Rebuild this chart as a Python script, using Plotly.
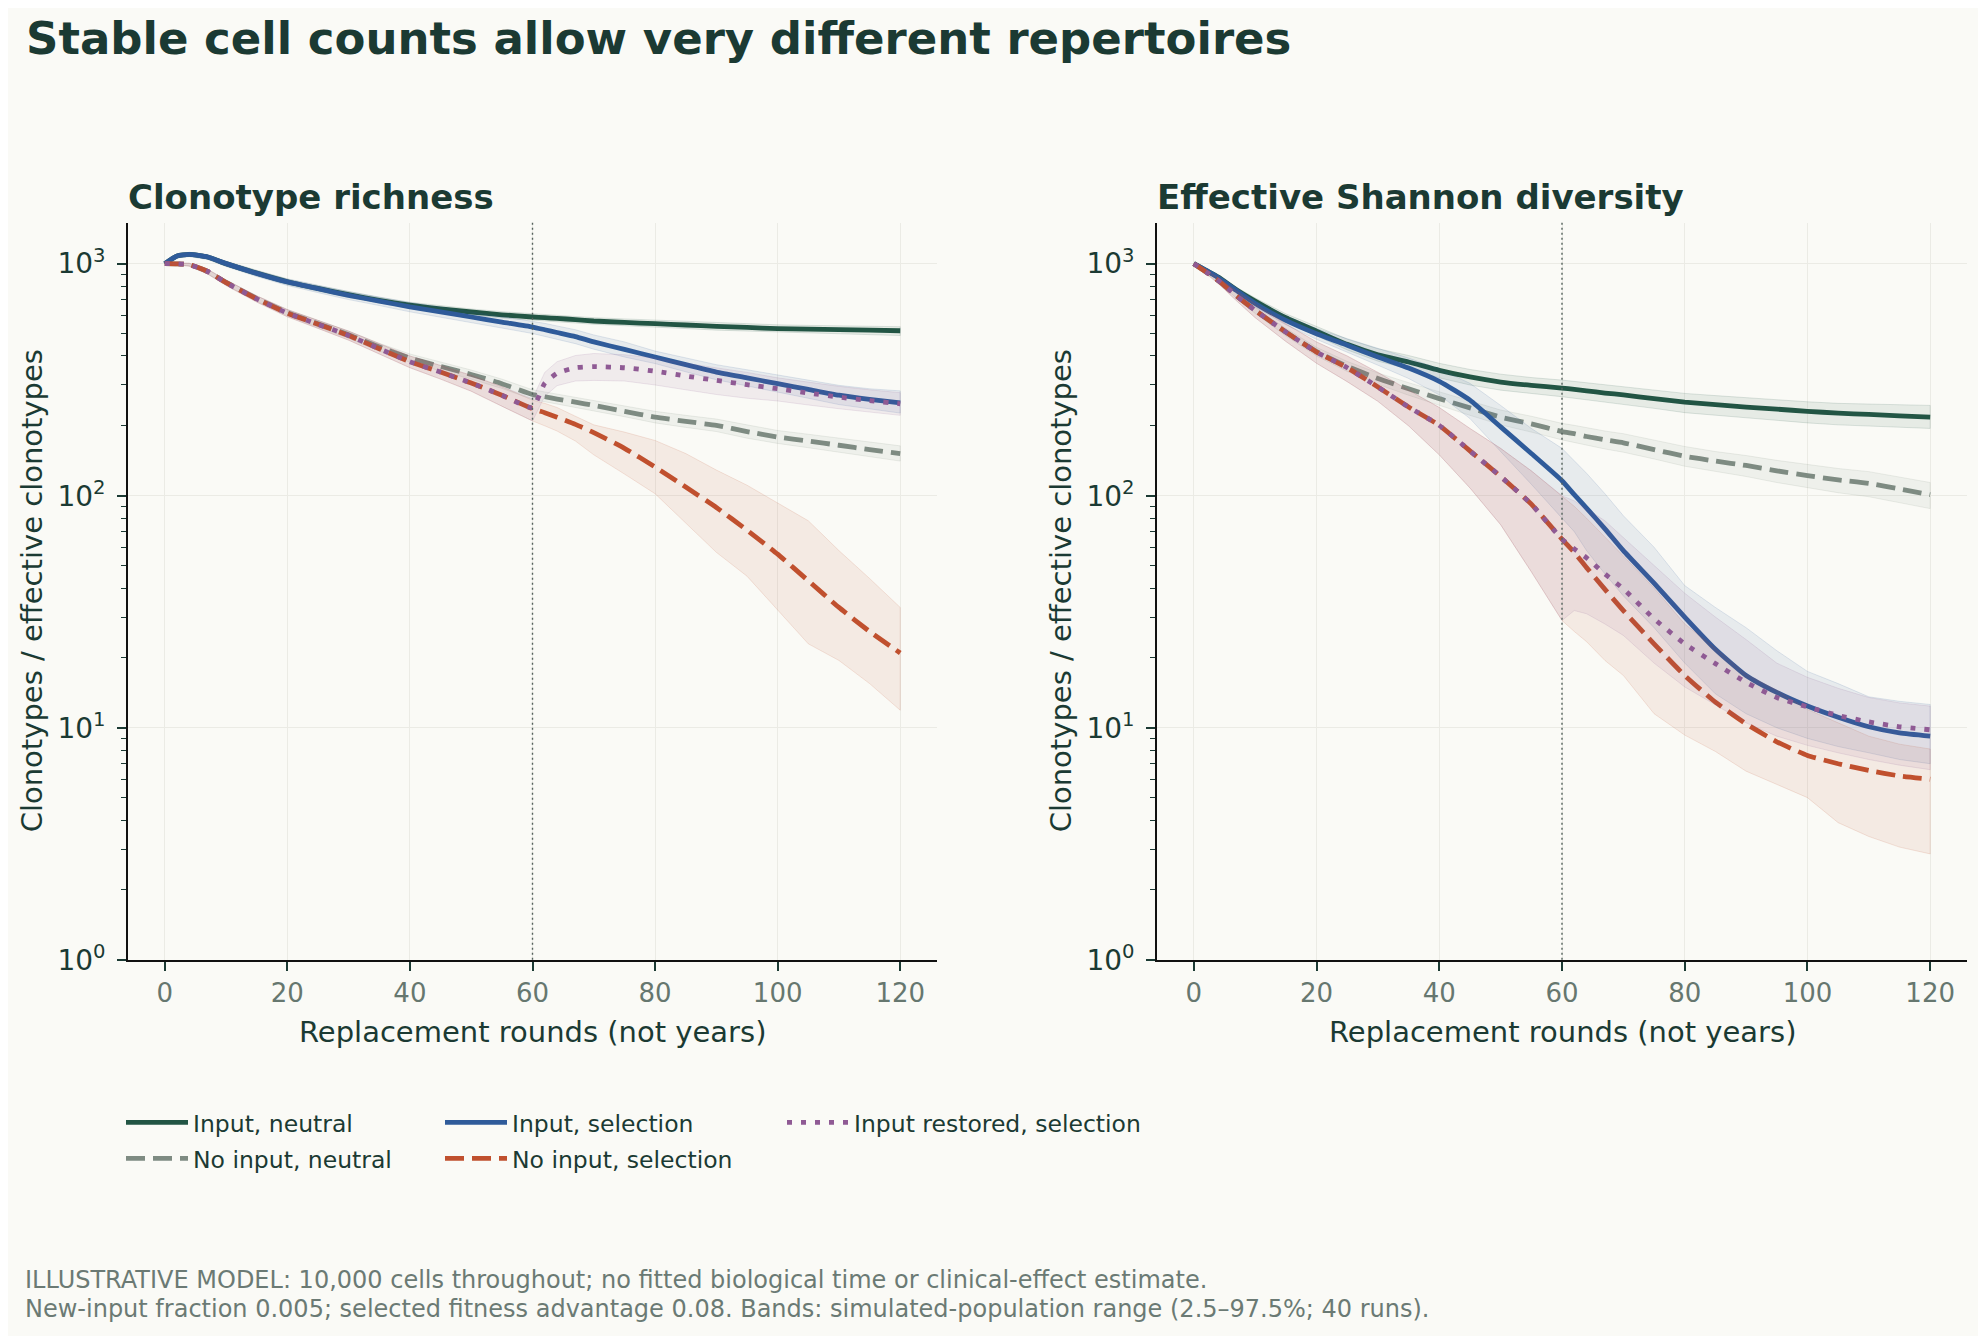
import plotly.graph_objects as go
from plotly.subplots import make_subplots

# page is 1986x1344; the html body adds an 8px margin, so the figure is made
# 16px smaller. The captured page comes out slightly squeezed vertically,
# so y positions are stretched by SY to land on the wanted pixels.
PAGE_W, PAGE_H = 1986, 1344
FW, FH = PAGE_W - 16, PAGE_H - 16
SY = 0.9885


def px(x):
    return (x - 8) / FW


def py(y):
    return 1 - (y / SY - 8) / FH


rounds = [0, 2, 4, 7, 10, 15, 20, 25, 30, 35, 40, 45, 50, 55, 60, 62, 64, 67,
          70, 75, 80, 85, 90, 95, 100, 105, 110, 115, 120]

# ---- left panel: clonotype richness ----
rich_in_neutral = [1000, 1079, 1097, 1068, 1000, 910, 836, 782, 735, 695, 662, 638, 619, 602, 589, 585, 581, 574,
                   566, 558, 551, 544, 537, 531, 525, 522, 520, 517, 514]
rich_in_neutral_lo = [1000, 1060, 1075, 1045, 975, 886, 812, 760, 714, 675, 642, 618, 600, 583, 570, 566, 562, 555,
                      548, 539, 532, 525, 517, 511, 505, 501, 498, 494, 490]
rich_in_neutral_hi = [1000, 1095, 1118, 1090, 1022, 934, 858, 804, 757, 716, 682, 658, 638, 621, 608, 604, 600, 593,
                      585, 578, 571, 564, 557, 551, 545, 542, 540, 537, 535]

rich_no_neutral = [1000, 998, 990, 925, 830, 707, 615, 551, 494, 437, 392, 361, 333, 304, 273, 267, 261, 253,
                   245, 231, 218, 209, 201, 189, 179, 172, 165, 158, 152]
rich_no_neutral_lo = [1000, 990, 978, 905, 810, 688, 596, 532, 476, 420, 376, 345, 318, 290, 260, 254, 248, 240,
                      232, 219, 206, 197, 189, 177, 168, 161, 154, 147, 141]
rich_no_neutral_hi = [1000, 1006, 1002, 944, 850, 726, 634, 570, 512, 454, 408, 377, 348, 318, 286, 280, 274, 266,
                      258, 244, 231, 222, 214, 202, 191, 184, 177, 170, 164]

rich_in_sel = [1000, 1079, 1097, 1068, 1000, 908, 834, 780, 730, 690, 651, 620, 589, 560, 533, 519, 505, 485,
               460, 427, 396, 367, 341, 322, 304, 287, 271, 260, 251]
rich_in_sel_lo = [1000, 1058, 1072, 1042, 972, 880, 805, 750, 700, 660, 620, 588, 557, 528, 500, 486, 472, 452,
                  428, 396, 371, 342, 316, 297, 279, 263, 247, 236, 227]
rich_in_sel_hi = [1000, 1098, 1120, 1094, 1026, 934, 860, 808, 758, 718, 680, 650, 620, 592, 566, 553, 539, 519,
                  493, 460, 420, 392, 367, 349, 332, 315, 299, 289, 283]

rich_no_sel = [1000, 998, 990, 925, 828, 705, 612, 548, 490, 430, 378, 341, 306, 271, 237, 228, 218, 203,
               187, 160, 133, 109, 89, 71, 56, 43, 33, 26, 21]
rich_no_sel_lo = [1000, 988, 975, 902, 805, 683, 590, 526, 468, 408, 356, 318, 282, 243, 210, 200, 190, 172,
                  150, 124, 102, 76, 57, 45, 32, 23, 19.5, 15.5, 11.9]
rich_no_sel_hi = [1000, 1006, 1004, 946, 850, 727, 634, 570, 512, 452, 400, 364, 330, 295, 258, 250, 240, 220,
                  202, 188, 173, 152, 129, 111, 93, 78, 58, 44, 33]

rich_restored_sel = [1000, 998, 990, 925, 828, 705, 612, 548, 490, 430, 378, 341, 306, 271, 240, 305, 337, 356,
                     360, 356, 344, 328, 314, 301, 289, 277, 266, 257, 249]
rich_restored_sel_lo = [1000, 988, 975, 902, 805, 683, 590, 526, 468, 408, 356, 318, 282, 243, 210, 268, 298, 312,
                        314, 312, 300, 286, 273, 263, 256, 246, 237, 229, 222]
rich_restored_sel_hi = [1000, 1006, 1004, 946, 850, 727, 634, 570, 512, 452, 400, 364, 330, 295, 262, 340, 378, 402,
                        410, 405, 392, 372, 355, 340, 322, 308, 296, 286, 278]

# ---- right panel: effective Shannon diversity ----
div_in_neutral = [1000, 935, 875, 770, 690, 585, 512, 449, 405, 377, 347, 325, 309, 299, 291, 287, 283, 277,
                  272, 262, 253, 247, 241, 236, 231, 227, 224, 221, 218]
div_in_neutral_lo = [1000, 925, 860, 752, 668, 562, 488, 425, 380, 352, 322, 300, 285, 275, 267, 263, 259, 253,
                     248, 238, 228, 222, 216, 211, 206, 202, 199, 197, 195]
div_in_neutral_hi = [1000, 945, 890, 790, 712, 608, 536, 473, 430, 402, 372, 350, 334, 323, 315, 311, 307, 301,
                     296, 286, 276, 270, 264, 258, 254, 250, 248, 246, 245]

div_no_neutral = [1000, 920, 845, 725, 629, 507, 418, 361, 320, 289, 262, 239, 218, 204, 189, 185, 180, 174,
                  169, 158, 148, 141, 135, 128, 122, 117, 113, 107, 101]
div_no_neutral_lo = [1000, 910, 830, 708, 610, 488, 400, 343, 302, 271, 245, 222, 202, 188, 174, 170, 165, 159,
                     154, 144, 134, 127, 121, 114, 108, 103, 99, 93, 88]
div_no_neutral_hi = [1000, 930, 860, 742, 648, 526, 436, 379, 338, 307, 280, 256, 234, 220, 205, 201, 196, 190,
                     185, 174, 163, 155, 149, 142, 136, 131, 127, 120, 114]

div_in_sel = [1000, 935, 870, 765, 673, 570, 499, 445, 396, 355, 311, 258, 198, 152, 116, 101, 88.5, 72,
              58, 42, 30, 21.8, 16.8, 14.2, 12.4, 11.1, 10.1, 9.5, 9.2]
div_in_sel_lo = [1000, 925, 855, 745, 650, 545, 472, 415, 365, 320, 272, 215, 155, 112, 80, 70, 58, 46,
                 37, 27, 19, 14, 11.5, 10, 9, 8.3, 7.8, 7.3, 7.0]
div_in_sel_hi = [1000, 945, 885, 785, 695, 595, 525, 475, 430, 392, 352, 305, 245, 195, 160, 142, 125, 102,
                 82, 60, 41, 33, 27, 21.5, 17.5, 15.5, 13.6, 13.0, 12.6]

div_no_sel = [1000, 920, 845, 725, 629, 507, 416, 356, 294, 241, 201, 156, 121, 92, 65, 57, 49, 39.5,
              32, 23, 16.8, 12.9, 10.4, 8.7, 7.6, 7.0, 6.55, 6.2, 6.0]
div_no_sel_lo = [1000, 905, 820, 690, 585, 462, 372, 310, 255, 200, 150, 108, 75, 47, 29, 26, 23.5, 19.5,
                 16.8, 11.5, 9.3, 7.9, 6.5, 5.7, 5.0, 3.9, 3.4, 3.06, 2.86]
div_no_sel_hi = [1000, 935, 870, 760, 670, 550, 460, 400, 340, 285, 240, 195, 160, 128, 100, 90, 80, 66,
                 55, 40, 28, 22, 17, 14.5, 12, 10.5, 9.2, 8.5, 8.1]

div_restored_sel = [1000, 920, 845, 725, 629, 507, 416, 356, 294, 241, 201, 156, 121, 92, 65, 59, 54, 46,
                    39.7, 29.5, 23.0, 18.9, 15.7, 13.5, 12.3, 11.3, 10.6, 10.1, 9.8]
div_restored_sel_lo = [1000, 905, 820, 690, 585, 462, 372, 310, 255, 200, 150, 108, 75, 47, 29, 32, 31, 28,
                       25, 19, 15, 12.5, 10.5, 9.2, 8.4, 7.8, 7.3, 6.9, 6.6]
div_restored_sel_hi = [1000, 935, 870, 760, 670, 550, 460, 400, 340, 285, 240, 195, 160, 128, 100, 95, 88, 78,
                       66, 50, 38, 30, 24, 19, 16.5, 14.8, 13.5, 12.8, 12.4]

series_names = ["Input, neutral", "No input, neutral", "Input, selection",
                "No input, selection", "Input restored, selection"]
colors = ["#225544", "#7e8b82", "#2f5b9a", "#c0502e", "#8f5a94"]
dashes = ["solid", "19px,8px", "solid", "19px,8px", "5px,9px"]

panels = [
    [(rich_in_neutral, rich_in_neutral_lo, rich_in_neutral_hi),
     (rich_no_neutral, rich_no_neutral_lo, rich_no_neutral_hi),
     (rich_in_sel, rich_in_sel_lo, rich_in_sel_hi),
     (rich_no_sel, rich_no_sel_lo, rich_no_sel_hi),
     (rich_restored_sel, rich_restored_sel_lo, rich_restored_sel_hi)],
    [(div_in_neutral, div_in_neutral_lo, div_in_neutral_hi),
     (div_no_neutral, div_no_neutral_lo, div_no_neutral_hi),
     (div_in_sel, div_in_sel_lo, div_in_sel_hi),
     (div_no_sel, div_no_sel_lo, div_no_sel_hi),
     (div_restored_sel, div_restored_sel_lo, div_restored_sel_hi)],
]
panel_titles = ["Clonotype richness", "Effective Shannon diversity"]

INK = "#1b3a33"
BG = "#fafaf6"
FONT = "DejaVu Sans"


def rgba(hex_color, a):
    h = hex_color.lstrip("#")
    r, g, b = int(h[0:2], 16), int(h[2:4], 16), int(h[4:6], 16)
    return f"rgba({r},{g},{b},{a})"


fig = make_subplots(rows=1, cols=2)

for col, panel in enumerate(panels, start=1):
    for i, (mid, lo, hi) in enumerate(panel):
        c = colors[i]
        # simulated-population range band
        fig.add_trace(go.Scatter(
            x=rounds + rounds[::-1], y=hi + lo[::-1],
            fill="toself", fillcolor=rgba(c, 0.09),
            line=dict(color=rgba(c, 0.14), width=1),
            mode="lines", showlegend=False, hoverinfo="skip"), row=1, col=col)
        fig.add_trace(go.Scatter(
            x=rounds, y=mid, mode="lines", name=series_names[i],
            line=dict(color=c, width=4.8, dash=dashes[i], shape="spline", smoothing=0.5),
            legend="legend" if i == 0 else f"legend{i + 1}",
            showlegend=(col == 1)), row=1, col=col)

# axes boxes (page pixels)
x_boxes = [(128, 937), (1157, 1967)]
y_box = (223, 961)
x_doms = [(px(a), px(b)) for a, b in x_boxes]
y_dom = (py(y_box[1]), py(y_box[0]))

minor_vals = [m * 10 ** k for k in range(0, 4) for m in range(2, 10)]

for col in (1, 2):
    fig.update_xaxes(
        domain=x_doms[col - 1], range=[-6, 126],
        tickvals=[0, 20, 40, 60, 80, 100, 120],
        ticks="outside", ticklen=9, tickwidth=1.5, tickcolor=INK,
        tickfont=dict(family=FONT, size=26, color="#66776f"),
        showline=True, linecolor="#111111", linewidth=1.8,
        showgrid=True, gridcolor="#ebebe5", gridwidth=1.2,
        zeroline=False, row=1, col=col)
    fig.update_yaxes(
        type="log", domain=y_dom, range=[0, 3.176],
        tickvals=[1, 10, 100, 1000],
        ticktext=["10<sup>0</sup>", "10<sup>1</sup>", "10<sup>2</sup>", "10<sup>3</sup>"],
        ticks="outside", ticklen=9, tickwidth=1.5, tickcolor=INK,
        ticklabelstandoff=6,
        minor=dict(tickvals=minor_vals, ticks="outside", ticklen=5, tickwidth=1.2,
                   tickcolor=INK, showgrid=False),
        tickfont=dict(family=FONT, size=28, color=INK),
        showline=True, linecolor="#111111", linewidth=1.8,
        showgrid=True, gridcolor="#ebebe5", gridwidth=1.2,
        zeroline=False, row=1, col=col)

    # input restored at round 60
    fig.add_shape(type="line", xref=f"x{'' if col == 1 else col}",
                  yref=f"y{'' if col == 1 else col} domain",
                  x0=60, x1=60, y0=0, y1=1,
                  line=dict(color="#55625d", width=1.4, dash="2px,3px"))

annotations = [
    dict(text="<b>Stable cell counts allow very different repertoires</b>",
         x=px(24), y=py(38), xanchor="left", yanchor="middle",
         font=dict(size=45, color=INK)),
    dict(text="ILLUSTRATIVE MODEL: 10,000 cells throughout; no fitted biological time or clinical-effect estimate.",
         x=px(23), y=py(1282), xanchor="left", yanchor="middle",
         font=dict(size=24, color="#6b7a74")),
    dict(text="New-input fraction 0.005; selected fitness advantage 0.08. Bands: simulated-population range (2.5–97.5%; 40 runs).",
         x=px(23), y=py(1311), xanchor="left", yanchor="middle",
         font=dict(size=24, color="#6b7a74")),
]
for k, t in enumerate(panel_titles):
    left, right = x_boxes[k]
    annotations.append(dict(text=f"<b>{t}</b>", x=px(left - 2), y=py(197),
                            xanchor="left", yanchor="middle",
                            font=dict(size=34, color=INK)))
    annotations.append(dict(text="Replacement rounds (not years)",
                            x=px((left + right) / 2), y=py(1033),
                            xanchor="center", yanchor="middle",
                            font=dict(size=29, color=INK)))
    annotations.append(dict(text="Clonotypes / effective clonotypes",
                            x=px(left - 96), y=py((y_box[0] + y_box[1]) / 2),
                            textangle=-90, xanchor="center", yanchor="middle",
                            font=dict(size=29, color=INK)))
for a in annotations:
    a.update(xref="paper", yref="paper", showarrow=False)

# one legend box per entry, laid out in the 3-column grid (page pixels of the sample line)
legend_pos = [(127, 1124), (127, 1160), (446, 1124), (446, 1160), (788, 1124)]
legend_layout = {}
for i, (lx, ly) in enumerate(legend_pos):
    key = "legend" if i == 0 else f"legend{i + 1}"
    legend_layout[key] = dict(
        x=px(lx - 6), y=py(ly), xanchor="left", yanchor="middle",
        bgcolor="rgba(0,0,0,0)", borderwidth=0,
        font=dict(family=FONT, size=23.5, color=INK), itemwidth=62)

fig.update_layout(
    width=FW, height=FH,
    margin=dict(l=0, r=0, t=0, b=0),
    paper_bgcolor=BG, plot_bgcolor=BG,
    font=dict(family=FONT, color=INK),
    annotations=annotations,
    showlegend=True,
    **legend_layout,
)

fig.write_html("out.html")
